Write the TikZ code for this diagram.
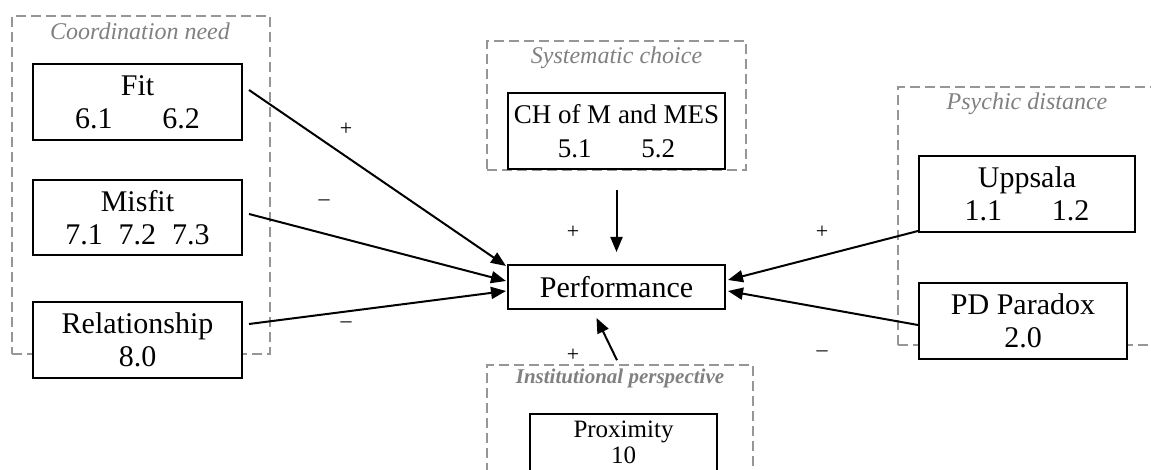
\documentclass[tikz,border=0pt]{standalone}
\usepackage{fontspec}
\setmainfont{Liberation Serif}
\usetikzlibrary{arrows.meta}
\definecolor{dgray}{RGB}{150,150,150}
\definecolor{tgray}{RGB}{128,128,128}
\tikzset{
 box/.style={draw=black, line width=2pt, fill=white, inner sep=0pt, align=center, font=\fontsize{30}{33}\selectfont},
 group/.style={draw=dgray, line width=1.6pt, dash pattern=on 10pt off 5pt, inner sep=0pt},
 gtitle/.style={text=tgray, anchor=base, font=\fontsize{24}{26}\selectfont\itshape},
 arr/.style={line width=2pt, -{Triangle[length=15pt,width=12pt]}},
 sign/.style={font=\fontsize{22}{24}\selectfont}
}
\begin{document}
\begin{tikzpicture}[x=1pt,y=-1pt]
\useasboundingbox (0,0) rectangle (1151,470);
\clip (0,0) rectangle (1151,470);
% group boxes
\node[group, minimum width=258pt, minimum height=338pt] (gcoord) at (141,185) {};
\node[group, minimum width=259pt, minimum height=129pt] (gsys) at (616.5,105.5) {};
\node[group, minimum width=272pt, minimum height=258pt] (gpsy) at (1034,216) {};
\node[group, minimum width=266pt, minimum height=135pt] (ginst) at (620,432.5) {};
% titles
\node[gtitle] (tcoord) at (140,40) {Coordination need};
\node[gtitle] (tsys) at (616.5,64) {Systematic choice};
\node[gtitle] (tpsy) at (1027,110) {Psychic distance};
\node[gtitle, font=\fontsize{21}{24}\selectfont\bfseries\itshape] (tinst) at (620,383) {Institutional perspective};
% boxes
\node[box, minimum width=209pt, minimum height=76pt] (fit) at (137.5,102) {Fit\\6.1\hspace{50pt}6.2};
\node[box, minimum width=209pt, minimum height=75pt] (misfit) at (137.5,217.5) {Misfit\\7.1\hspace{16pt}7.2\hspace{16pt}7.3};
\node[box, minimum width=209pt, minimum height=76pt] (rel) at (137.5,340) {Relationship\\8.0};
\node[box, minimum width=217pt, minimum height=76pt, font=\fontsize{27}{34}\selectfont] (ch) at (616.5,131) {CH of M and MES\\5.1\hspace{50pt}5.2};
\node[box, minimum width=217pt, minimum height=44pt] (perf) at (616.5,287) {Performance};
\node[box, minimum width=216pt, minimum height=76pt] (upp) at (1027,194) {Uppsala\\1.1\hspace{50pt}1.2};
\node[box, minimum width=208pt, minimum height=76pt] (pd) at (1023,321) {PD Paradox\\2.0};
\node[box, minimum width=187pt, minimum height=80pt, anchor=north] (prox) at (623.5,413) {};
\node[anchor=base, inner sep=0pt, align=center, font=\fontsize{25}{26}\selectfont] (proxt) at (623.5,463) {Proximity\\10};
% arrows
\draw[arr] ([xshift=6pt,yshift=12pt]fit.east) -- ([xshift=-1pt,yshift=-2pt]perf.north west);
\draw[arr] ([xshift=6pt,yshift=3.5pt]misfit.east) -- ([xshift=-1pt,yshift=6pt]perf.west);
\draw[arr] ([xshift=6pt,yshift=16pt]rel.east) -- ([xshift=-1pt,yshift=-4pt]perf.west);
\draw[arr] ([yshift=2pt]upp.south west) -- ([xshift=2pt,yshift=7pt]perf.east);
\draw[arr] ([yshift=-4pt]pd.west) -- ([xshift=2pt,yshift=-4pt]perf.east);
\draw[arr] ([yshift=-20pt]ch.south) -- ([yshift=12pt]perf.north);
\draw[arr] ([xshift=-3pt,yshift=4pt]ginst.north) -- ([xshift=-20pt,yshift=-8pt]perf.south);
% signs
\node[sign] (s1) at (346,129) {+};
\node[sign] (s2) at (324,203) {–};
\node[sign] (s3) at (346,325) {–};
\node[sign] (s4) at (573,232) {+};
\node[sign] (s5) at (573,355) {+};
\node[sign] (s6) at (822,232) {+};
\node[sign] (s7) at (822,354) {–};
\end{tikzpicture}
\end{document}
